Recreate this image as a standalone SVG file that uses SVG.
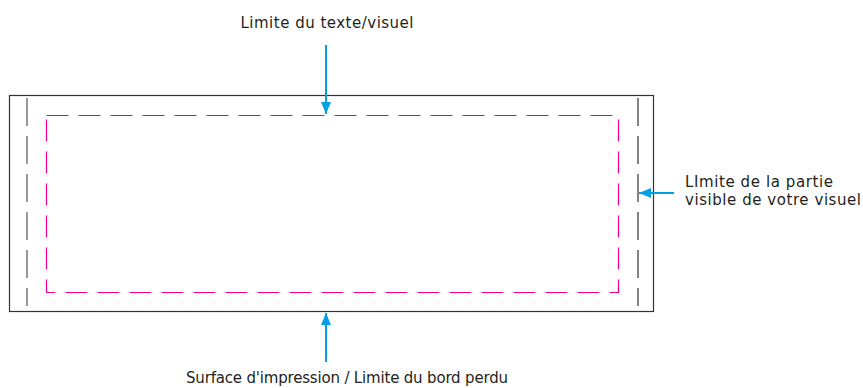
<svg xmlns="http://www.w3.org/2000/svg" width="863" height="388" viewBox="0 0 863 388">
<style>
text{font-family:"DejaVu Sans","Liberation Sans",sans-serif;font-size:15px;fill:#231f20}
.arrow{stroke:#00a0e3;stroke-width:2;fill:none}
</style>
<defs>
<marker id="ah" viewBox="0 0 12 10" refX="12" refY="5" markerWidth="6" markerHeight="5" orient="auto" markerUnits="strokeWidth">
<path d="M0,0 L12,5 L0,10 Z" fill="#00a0e3"/>
</marker>
</defs>
<rect width="863" height="388" fill="#fff"/>
<g id="bleed">
<rect x="9.5" y="95.5" width="644" height="216" fill="none" stroke="#333" stroke-width="1.2"/>
</g>
<g id="visible">
<line x1="27" y1="98" x2="27" y2="306" stroke="#555" stroke-width="1.2" stroke-dasharray="28,10"/>
<line x1="638" y1="98" x2="638" y2="306" stroke="#333" stroke-width="1.2" stroke-dasharray="28,10"/>
</g>
<g id="safe">
<rect x="46.5" y="115.5" width="572" height="177" fill="none" stroke="#ec008c" stroke-width="1.2" stroke-dasharray="22,10"/>
</g>
<g id="connectors">
<line class="arrow" x1="326" y1="45" x2="326" y2="114" marker-end="url(#ah)"/>
<line class="arrow" x1="326" y1="362" x2="326" y2="313" marker-end="url(#ah)"/>
<line class="arrow" x1="674" y1="193" x2="639" y2="193" marker-end="url(#ah)"/>
</g>
<g id="labels">
<text x="327" y="28" text-anchor="middle" textLength="173">Limite du texte/visuel</text>
<text x="685" y="187" textLength="148">LImite de la partie</text>
<text x="685" y="205" textLength="176">visible de votre visuel</text>
<text x="347" y="383" text-anchor="middle" textLength="322">Surface d'impression / Limite du bord perdu</text>
</g>
</svg>
